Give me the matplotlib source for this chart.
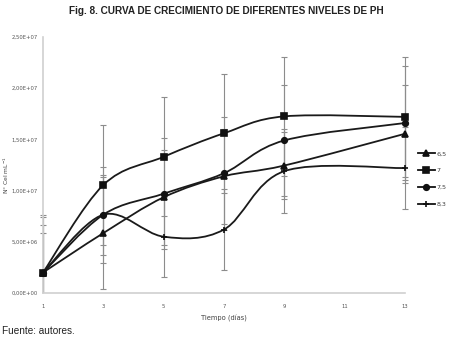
import numpy as np
import matplotlib
matplotlib.use('Agg')
import matplotlib.pyplot as plt
from matplotlib.path import Path
from matplotlib.patches import PathPatch, Rectangle
from matplotlib.lines import Line2D
from matplotlib.ticker import FuncFormatter

# datos (celulas por mL)
dias = [1, 3, 5, 7, 9, 13]
ph_labels = ['6,5', '7', '7,5', '8,3']
ph65 = [2.0e6, 5.85e6, 9.35e6, 11.4e6, 12.45e6, 15.55e6]
ph7 = [2.0e6, 10.55e6, 13.3e6, 15.6e6, 17.25e6, 17.2e6]
ph75 = [2.0e6, 7.65e6, 9.7e6, 11.7e6, 14.9e6, 16.6e6]
ph83 = [2.0e6, 7.65e6, 5.5e6, 6.2e6, 11.9e6, 12.2e6]
err65 = [4.6e6, 5.5e6, 4.65e6, 4.65e6, 3.3e6, 4.8e6]
err7 = [5.65e6, 5.9e6, 5.8e6, 5.8e6, 5.8e6, 5.87e6]
err75 = [5.4e6, 4.7e6, 5.4e6, 5.5e6, 5.46e6, 5.56e6]
err83 = [3.9e6, 3.9e6, 3.9e6, 3.95e6, 4.1e6, 4.0e6]
markers = ['^', 's', 'o', '+']
msizes = [4, 4.5, 4, 4]

x_ticks = [1, 3, 5, 7, 9, 11, 13]
y_ticks = [0, 5e6, 1e7, 1.5e7, 2e7, 2.5e7]

small = ['Liberation Sans Narrow', 'DejaVu Sans Condensed', 'DejaVu Sans']


def smooth_path(xs, ys):
    # curva suavizada tipo excel (bezier por tramos)
    p = np.column_stack([xs, ys]).astype(float)
    n = len(p)
    verts = [p[0]]
    codes = [Path.MOVETO]
    for i in range(n - 1):
        p0 = p[i - 1] if i > 0 else p[i]
        p3 = p[i + 2] if i + 2 < n else p[i + 1]
        c1 = p[i] + (p[i + 1] - p0) / 6.0
        c2 = p[i + 1] - (p3 - p[i]) / 6.0
        verts += [c1, c2, p[i + 1]]
        codes += [Path.CURVE4] * 3
    return Path(verts, codes)


fig = plt.figure(figsize=(4.5, 3.48), dpi=100)
ax = fig.add_axes([43 / 450, 55 / 348, 362 / 450, 256 / 348])
ax.set_xlim(1, 13)
ax.set_ylim(0, 2.5e7)

series = [ph65, ph7, ph75, ph83]
errs = [err65, err7, err75, err83]

# recorte solo por abajo/arriba, no en los bordes laterales
clip = Rectangle((0, 0), 14, 2.5e7, transform=ax.transData, visible=False)
ax.add_patch(clip)

for s, e in zip(series, errs):
    eb = ax.errorbar(dias, s, yerr=e, fmt='none', ecolor='#8c8c8c', elinewidth=0.8,
                     capsize=2.5, capthick=0.8, zorder=1)
    for art in eb.lines[1] + eb.lines[2]:
        art.set_clip_path(clip)

for s, m, ms in zip(series, markers, msizes):
    ax.add_patch(PathPatch(smooth_path(dias, s), facecolor='none',
                           edgecolor='#1a1a1a', lw=1.3, zorder=3, clip_on=False))
    ax.plot(dias, s, linestyle='none', marker=m, ms=ms, color='#111111',
            mew=1.2, zorder=4, clip_on=False)

ax.set_xticks(x_ticks)
ax.set_yticks(y_ticks)
ax.yaxis.set_major_formatter(FuncFormatter(
    lambda v, p: ('%.2E' % v).replace('.', ',')))
ax.tick_params(length=0, labelsize=3.8, colors='#555555')
ax.tick_params(axis='x', pad=8)
ax.tick_params(axis='y', pad=4)
for lab in ax.get_xticklabels() + ax.get_yticklabels():
    lab.set_family(small)
for side in ['top', 'right']:
    ax.spines[side].set_visible(False)
for side in ['left', 'bottom']:
    ax.spines[side].set_color('#d0d0d0')
    ax.spines[side].set_linewidth(1.2)

ax.set_xlabel('Tiempo (días)', fontsize=4.8, color='#404040', labelpad=4,
              family=small)
fig.text(6 / 450, 1 - 175 / 348, 'N° Cel mL$^{-1}$', rotation=90, fontsize=4.3,
         color='#404040', ha='center', va='center', family=small)

handles = [Line2D([0], [0], color='#111111', lw=1.3, marker=m, ms=ms, mew=1.2)
           for m, ms in zip(markers, msizes)]
fig.legend(handles, ph_labels, loc='center left',
           bbox_to_anchor=(418 / 450, 1 - 179 / 348), frameon=False,
           prop={'family': small, 'size': 4.6}, handlelength=2.6,
           handletextpad=0.3, labelspacing=1.8,
           borderpad=0, borderaxespad=0, labelcolor='#404040')

fig.text(226 / 450, 1 - 11 / 348, 'Fig. 8. CURVA DE CRECIMIENTO DE DIFERENTES NIVELES DE PH',
         ha='center', va='center', fontsize=7.2, fontweight='bold',
         family=['Liberation Sans', 'DejaVu Sans'], color='#222222')
fig.text(2 / 450, 1 - 331 / 348, 'Fuente: autores.', ha='left', va='center',
         fontsize=7.2, family=['Liberation Sans', 'DejaVu Sans'], color='#222222')

fig.savefig('out.png', dpi=100)
